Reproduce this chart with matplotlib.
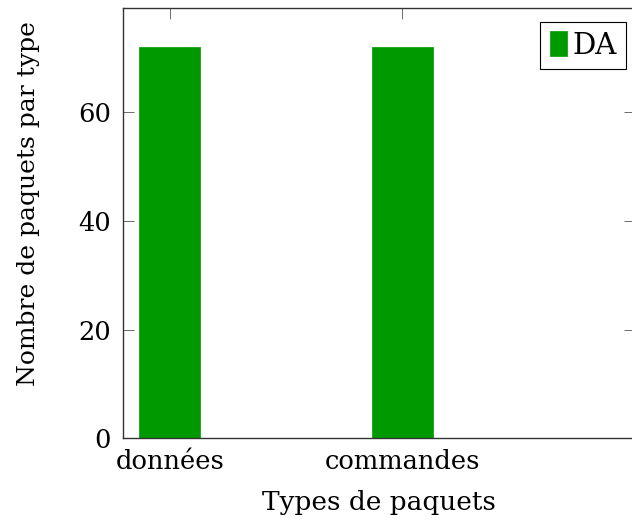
import matplotlib
matplotlib.use("Agg")
import matplotlib.pyplot as plt
import numpy as np

categories = ["données", "commandes"]
values_DA = [72, 72]
series_name = "DA"
yticks = [0, 20, 40, 60]

plt.rcParams['font.family'] = ['DejaVu Serif']
plt.rcParams['font.size'] = 18

fig = plt.figure(figsize=(6.32, 5.22), dpi=100)
ax = fig.add_axes([123.3/632, (522-438.3)/522, (635-123.3)/632, (438.3-8)/522])
ax.set_axisbelow(True)

x = np.arange(len(categories))
ax.bar(x, values_DA, width=0.263, color="#009900", edgecolor="#009900", linewidth=0.5, label=series_name)

ax.set_xlim(-0.2, 2.0)
ax.set_ylim(0, 79.2)
ax.set_xticks(x)
ax.set_xticklabels(categories)
ax.set_yticks(yticks)

ax.tick_params(axis='both', direction='in', length=8, width=0.6, color='#555555',
               top=True, right=True, labelsize=18.5)
ax.tick_params(axis='y', pad=9)
ax.tick_params(axis='x', pad=8)
for s in ax.spines.values():
    s.set_linewidth(1.0)
    s.set_color('#333333')

ax.set_xlabel("Types de paquets", fontsize=19, labelpad=11)
ax.set_ylabel("Nombre de paquets par type", fontsize=18, va='center')
ax.yaxis.set_label_coords((29-123.3)/511.7, (438.3-204)/430.3)

leg = ax.legend(loc='upper right', bbox_to_anchor=(0.9824, 0.968), borderaxespad=0,
                fancybox=False, edgecolor='black', framealpha=1,
                handlelength=0.58, handleheight=0.9, handletextpad=0.17,
                borderpad=0.33, fontsize=21)
leg.get_frame().set_linewidth(0.8)

fig.savefig("out.png", dpi=100)
